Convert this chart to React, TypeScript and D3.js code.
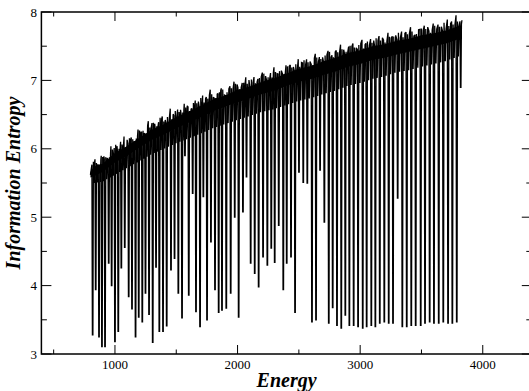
import React from "react";
import * as d3 from "d3";

const W = 529;
const H = 391;

// Dip positions (Energy) and minimum Information Entropy values
const dipEnergy = [818, 843, 870, 894, 919, 949, 973, 1000, 1027, 1052, 1080, 1112, 1139, 1168, 1194, 1223, 1249, 1278, 1308, 1335, 1362, 1392, 1422, 1457, 1486, 1517, 1547, 1571, 1602, 1634, 1661, 1694, 1721, 1751, 1783, 1816, 1846, 1873, 1908, 1944, 1977, 2009, 2044, 2073, 2107, 2140, 2172, 2208, 2243, 2275, 2303, 2336, 2373, 2401, 2436, 2469, 2501, 2536, 2569, 2607, 2640, 2673, 2708, 2744, 2776, 2811, 2846, 2879, 2912, 2947, 2983, 3021, 3053, 3091, 3124, 3160, 3197, 3233, 3268, 3306, 3344, 3380, 3417, 3453, 3494, 3529, 3567, 3602, 3641, 3678, 3717, 3752, 3788, 3820];
const dipValue = [3.28, 3.94, 3.25, 3.11, 3.11, 4.33, 4.0, 3.18, 3.33, 4.26, 4.56, 3.84, 3.66, 3.25, 3.54, 3.47, 3.89, 3.58, 3.17, 4.27, 3.33, 3.33, 3.41, 4.23, 4.4, 3.89, 3.53, 5.9, 3.86, 5.35, 3.62, 3.4, 5.3, 3.5, 4.64, 3.94, 3.61, 3.64, 3.67, 3.89, 5.0, 3.54, 5.08, 5.59, 4.33, 4.18, 3.98, 4.42, 4.3, 4.55, 4.34, 4.88, 3.94, 4.33, 4.42, 3.61, 5.66, 5.51, 5.5, 3.47, 3.5, 5.69, 4.93, 3.45, 3.68, 3.42, 3.38, 3.57, 3.42, 3.42, 3.4, 3.38, 3.4, 3.42, 3.4, 3.45, 3.47, 3.45, 3.45, 5.28, 3.4, 3.4, 3.42, 3.42, 3.42, 3.45, 3.47, 3.45, 3.45, 3.47, 3.45, 3.45, 3.47, 6.9];
// Local peak deviation next to each dip (jagged top of the band)
const peakOffset = [0.02, 0.06, -0.04, 0.08, 0.0, -0.06, 0.1, 0.03, -0.05, 0.07, 0.12, -0.02, 0.04, -0.08, 0.09, 0.01, -0.03, 0.11, 0.05, -0.07, 0.02, 0.08, -0.04, 0.13, 0.0, 0.06, -0.05, 0.1, 0.03, -0.02, 0.07, -0.06, 0.09, 0.04, 0.12, -0.03, 0.02, 0.08, -0.05, 0.06, 0.1, -0.01, 0.04, 0.11, -0.06, 0.07, 0.02, 0.09, -0.04, 0.05, 0.12, 0.0, -0.03, 0.08, 0.06, -0.05, 0.1, 0.03, 0.07, -0.02, 0.11, 0.04, -0.06, 0.09, 0.01, 0.06, 0.12, -0.04, 0.05, 0.08, -0.02, 0.1, 0.03, 0.07, -0.05, 0.09, 0.02, 0.11, 0.04, -0.03, 0.08, 0.06, 0.12, -0.01, 0.05, 0.09, 0.0, 0.1, 0.07, -0.04, 0.11, 0.06, 0.13, 0.02];

// Upper dense band of the curve: top edge, solid part and reach of small dips
const bandEnergy = [800, 830, 900, 1000, 1100, 1200, 1300, 1400, 1500, 1600, 1700, 1800, 1900, 2000, 2100, 2200, 2300, 2400, 2500, 2600, 2700, 2800, 2900, 3000, 3100, 3200, 3300, 3400, 3500, 3600, 3700, 3800, 3830];
const bandTop = [5.7, 5.78, 5.82, 5.98, 6.08, 6.2, 6.32, 6.4, 6.5, 6.58, 6.67, 6.76, 6.82, 6.9, 6.95, 7.02, 7.07, 7.14, 7.21, 7.25, 7.32, 7.37, 7.44, 7.48, 7.54, 7.57, 7.62, 7.65, 7.7, 7.73, 7.77, 7.83, 7.85];
const bandSolid = [5.58, 5.6, 5.66, 5.8, 5.9, 6.02, 6.13, 6.21, 6.3, 6.38, 6.46, 6.55, 6.62, 6.68, 6.74, 6.8, 6.85, 6.92, 6.98, 7.02, 7.08, 7.13, 7.2, 7.24, 7.3, 7.33, 7.38, 7.42, 7.46, 7.5, 7.54, 7.6, 7.6];
const bandLow = [5.5, 5.5, 5.52, 5.62, 5.72, 5.82, 5.92, 6.0, 6.08, 6.15, 6.22, 6.3, 6.36, 6.42, 6.48, 6.54, 6.58, 6.64, 6.7, 6.74, 6.8, 6.85, 6.92, 6.96, 7.02, 7.06, 7.12, 7.15, 7.2, 7.24, 7.28, 7.35, 7.35];

const xMajorTicks = [1000, 2000, 3000, 4000];
const xMinorTicks = [500, 1500, 2500, 3500];
const yMajorTicks = [3, 4, 5, 6, 7, 8];
const yMinorTicks = [3.5, 4.5, 5.5, 6.5, 7.5];

const FONT = "'Liberation Serif', 'Times New Roman', serif";

export default function App() {
  const left = 41.4, right = 531.8, top = 12, bottom = 354;
  const x = d3.scaleLinear().domain([400, 4400]).range([left, right]);
  const y = d3.scaleLinear().domain([3, 8]).range([bottom, top]);
  const topAt = d3.scaleLinear().domain(bandEnergy).range(bandTop);
  const lowAt = d3.scaleLinear().domain(bandEnergy).range(bandLow);

  const bandData = bandEnergy.map((e, i) => ({ e, t: bandTop[i] - 0.04, l: bandSolid[i] }));
  const area = d3
    .area<{ e: number; t: number; l: number }>()
    .x((d) => x(d.e))
    .y0((d) => y(d.l))
    .y1((d) => y(d.t));

  const pts: [number, number][] = [];
  pts.push([800, 5.62]);
  dipEnergy.forEach((e, i) => {
    const pk = topAt(e) + (peakOffset[i] ?? 0);
    pts.push([e - 6, pk]);
    pts.push([e - 2, dipValue[i]]);
    pts.push([e + 2, dipValue[i]]);
    pts.push([e + 6, topAt(e + 6) + (peakOffset[(i + 3) % peakOffset.length] ?? 0) * 0.6]);
    if (i < dipEnergy.length - 1) {
      const m = (e + dipEnergy[i + 1]) / 2;
      pts.push([m - 3, lowAt(m)]);
      pts.push([m + 3, topAt(m) + (peakOffset[(i + 7) % peakOffset.length] ?? 0) * 0.5]);
    }
  });
  pts.push([3830, 7.88]);
  const line = d3
    .line<[number, number]>()
    .x((d) => x(d[0]))
    .y((d) => y(d[1]));

  const majLen = 9;
  const minLen = 4.5;

  return (
    <svg width={W} height={H} style={{ position: "absolute", left: 0, top: 0, background: "#fff" }}>
      <defs>
        <clipPath id="clip">
          <rect x={left} y={top} width={right - left} height={bottom - top} />
        </clipPath>
      </defs>
      <g clipPath="url(#clip)">
        <path d={area(bandData) || ""} fill="#000" />
        <path d={line(pts) || ""} fill="none" stroke="#000" strokeWidth={1.3} strokeLinejoin="miter" strokeMiterlimit={2} />
      </g>
      <rect x={left} y={top} width={right - left} height={bottom - top} fill="none" stroke="#000" strokeWidth={1.5} />
      {xMajorTicks.map((t) => (
        <g key={"xm" + t}>
          <line x1={x(t)} x2={x(t)} y1={bottom} y2={bottom - majLen} stroke="#000" strokeWidth={1} />
          <line x1={x(t)} x2={x(t)} y1={top} y2={top + majLen} stroke="#000" strokeWidth={1} />
          <text x={x(t)} y={368.5} textAnchor="middle" fontFamily={FONT} fontSize={13}>{t}</text>
        </g>
      ))}
      {xMinorTicks.map((t) => (
        <g key={"xn" + t}>
          <line x1={x(t)} x2={x(t)} y1={bottom} y2={bottom - minLen} stroke="#000" strokeWidth={1} />
          <line x1={x(t)} x2={x(t)} y1={top} y2={top + minLen} stroke="#000" strokeWidth={1} />
        </g>
      ))}
      {yMajorTicks.map((t) => (
        <g key={"ym" + t}>
          <line x1={left} x2={left + majLen + 1} y1={y(t)} y2={y(t)} stroke="#000" strokeWidth={1} />
          <line x1={right} x2={right - majLen - 1} y1={y(t)} y2={y(t)} stroke="#000" strokeWidth={1} />
          <text x={37} y={y(t) + 4.5} textAnchor="end" fontFamily={FONT} fontSize={13}>{t}</text>
        </g>
      ))}
      {yMinorTicks.map((t) => (
        <g key={"yn" + t}>
          <line x1={left} x2={left + minLen + 1} y1={y(t)} y2={y(t)} stroke="#000" strokeWidth={1} />
          <line x1={right} x2={right - minLen - 1} y1={y(t)} y2={y(t)} stroke="#000" strokeWidth={1} />
        </g>
      ))}
      <text x={(left + right) / 2} y={387} textAnchor="middle" fontFamily={FONT} fontSize={20} fontWeight="bold" fontStyle="italic">Energy</text>
      <text transform={`translate(20, ${(top + bottom) / 2}) rotate(-90)`} textAnchor="middle" fontFamily={FONT} fontSize={20} fontWeight="bold" fontStyle="italic">Information Entropy</text>
    </svg>
  );
}
